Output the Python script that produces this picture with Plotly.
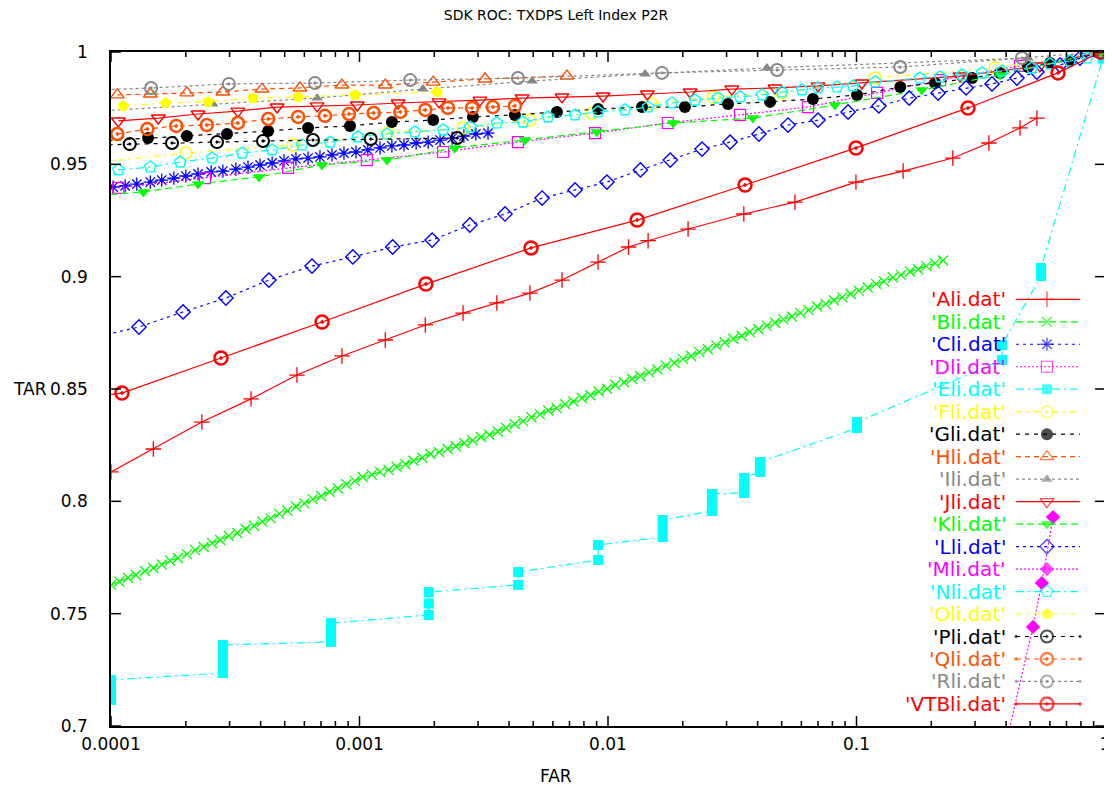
import math
import plotly.graph_objects as go

# ---------------- data (FAR, TAR) ----------------
A_far = [1.0e-4, 1.48e-4, 2.32e-4, 3.66e-4, 5.6e-4, 8.5e-4, 1.27e-3, 1.84e-3, 2.61e-3, 3.57e-3,
         4.85e-3, 6.53e-3, 9.12e-3, 1.21e-2, 1.45e-2, 2.1e-2, 3.52e-2, 5.65e-2, 9.95e-2, 0.154,
         0.244, 0.341, 0.455, 0.532]
A_tar = [0.8131, 0.8233, 0.8353, 0.8456, 0.8562, 0.8647, 0.8718, 0.8785, 0.8838, 0.8883,
         0.8927, 0.8985, 0.9065, 0.9132, 0.9160, 0.9212, 0.9279, 0.9332, 0.9421, 0.9470,
         0.9528, 0.9595, 0.9662, 0.9706]

B_far = [1.00e-4, 1.08e-4, 1.17e-4, 1.26e-4, 1.37e-4, 1.48e-4, 1.60e-4, 1.73e-4, 1.86e-4, 2.02e-4,
         2.18e-4, 2.36e-4, 2.55e-4, 2.75e-4, 2.98e-4, 3.22e-4, 3.48e-4, 3.76e-4, 4.06e-4, 4.39e-4,
         4.75e-4, 5.13e-4, 5.55e-4, 6.00e-4, 6.48e-4, 7.01e-4, 7.58e-4, 8.19e-4, 8.85e-4, 9.57e-4,
         1.03e-3, 1.12e-3, 1.21e-3, 1.31e-3, 1.41e-3, 1.53e-3, 1.65e-3, 1.79e-3, 1.93e-3, 2.09e-3,
         2.26e-3, 2.44e-3, 2.64e-3, 2.85e-3, 3.08e-3, 3.33e-3, 3.60e-3, 3.89e-3, 4.21e-3, 4.55e-3,
         4.92e-3, 5.32e-3, 5.75e-3, 6.21e-3, 6.72e-3, 7.26e-3, 7.85e-3, 8.49e-3, 9.17e-3, 9.92e-3,
         1.07e-2, 1.16e-2, 1.25e-2, 1.35e-2, 1.46e-2, 1.58e-2, 1.71e-2, 1.85e-2, 2.00e-2, 2.16e-2,
         2.33e-2, 2.52e-2, 2.73e-2, 2.95e-2, 3.19e-2, 3.45e-2, 3.72e-2, 4.03e-2, 4.35e-2, 4.70e-2,
         5.08e-2, 5.50e-2, 5.94e-2, 6.42e-2, 6.94e-2, 7.51e-2, 8.11e-2, 8.77e-2, 9.48e-2,
         0.102, 0.111, 0.120, 0.129, 0.140, 0.151, 0.164, 0.177, 0.191, 0.207, 0.223]
B_tar = [0.7628, 0.7643, 0.7660, 0.7672, 0.7690, 0.7703, 0.7719, 0.7736, 0.7748, 0.7765,
         0.7783, 0.7797, 0.7814, 0.7828, 0.7846, 0.7859, 0.7877, 0.7891, 0.7910, 0.7924,
         0.7944, 0.7958, 0.7977, 0.7991, 0.8010, 0.8024, 0.8043, 0.8057, 0.8076, 0.8091,
         0.8108, 0.8119, 0.8131, 0.8140, 0.8154, 0.8165, 0.8181, 0.8194, 0.8211, 0.8219,
         0.8234, 0.8245, 0.8260, 0.8271, 0.8286, 0.8296, 0.8311, 0.8327, 0.8344, 0.8357,
         0.8374, 0.8387, 0.8404, 0.8415, 0.8432, 0.8444, 0.8460, 0.8472, 0.8489, 0.8501,
         0.8518, 0.8530, 0.8546, 0.8558, 0.8574, 0.8587, 0.8604, 0.8617, 0.8634, 0.8647,
         0.8664, 0.8677, 0.8694, 0.8707, 0.8724, 0.8737, 0.8754, 0.8766, 0.8782, 0.8795,
         0.8810, 0.8823, 0.8839, 0.8851, 0.8867, 0.8879, 0.8895, 0.8908, 0.8923,
         0.8938, 0.8952, 0.8968, 0.8979, 0.8996, 0.9008, 0.9023, 0.9033, 0.9047, 0.9059, 0.9072]

C_far = [1.02e-4, 1.14e-4, 1.27e-4, 1.44e-4, 1.60e-4, 1.79e-4, 2.00e-4, 2.24e-4, 2.53e-4, 2.82e-4,
         3.18e-4, 3.56e-4, 3.98e-4, 4.45e-4, 4.97e-4, 5.55e-4, 6.21e-4, 6.93e-4, 7.75e-4, 8.66e-4,
         9.68e-4, 1.08e-3, 1.21e-3, 1.35e-3, 1.51e-3, 1.69e-3, 1.89e-3, 2.11e-3, 2.36e-3, 2.63e-3,
         2.94e-3, 3.29e-3]
C_tar = [0.9399, 0.9404, 0.9412, 0.9421, 0.9430, 0.9439, 0.9448, 0.9457, 0.9466, 0.9470,
         0.9479, 0.9488, 0.9497, 0.9506, 0.9515, 0.9524, 0.9528, 0.9533, 0.9542, 0.9550,
         0.9555, 0.9564, 0.9573, 0.9582, 0.9586, 0.9595, 0.9599, 0.9608, 0.9617, 0.9626,
         0.9635, 0.9639]

D_far = [1.07e-4, 2.39e-4, 5.16e-4, 1.07e-3, 2.17e-3, 4.34e-3, 8.87e-3, 1.74e-2, 3.40e-2, 6.38e-2,
         0.121, 0.217, 0.455, 0.96]
D_tar = [0.9395, 0.9439, 0.9484, 0.9519, 0.9555, 0.9599, 0.9639, 0.9684, 0.9720, 0.9755,
         0.9818, 0.9875, 0.9938, 1.0]

E_far = [1.0e-4, 1.0e-4, 1.0e-4, 1.0e-4, 2.82e-4, 2.82e-4, 2.82e-4, 2.82e-4,
         7.68e-4, 7.68e-4, 7.68e-4, 1.90e-3, 1.90e-3, 1.90e-3, 4.35e-3, 4.35e-3,
         9.12e-3, 9.12e-3, 1.66e-2, 1.66e-2, 1.66e-2, 2.62e-2, 2.62e-2, 2.62e-2,
         3.53e-2, 3.53e-2, 3.53e-2, 4.09e-2, 4.09e-2, 0.1005, 0.1005, 0.385, 0.385,
         0.553, 0.553, 0.98]
E_tar = [0.7116, 0.7145, 0.7175, 0.7205, 0.7236, 0.7278, 0.7320, 0.7361,
         0.7374, 0.7416, 0.7458, 0.7494, 0.7545, 0.7596, 0.7628, 0.7685,
         0.7739, 0.7806, 0.7841, 0.7880, 0.7917, 0.7957, 0.7995, 0.8033,
         0.8037, 0.8070, 0.8104, 0.8131, 0.8175, 0.8326, 0.8353, 0.8629, 0.8696,
         0.9003, 0.9039, 0.997]

F_far = [9e-5, 2.0e-4, 5.4e-4, 1.30e-3, 2.61e-3, 4.85e-3, 8.63e-3, 1.50e-2, 2.65e-2, 5.01e-2,
         0.119, 0.361, 0.96]
F_tar = [0.9510, 0.9550, 0.9586, 0.9640, 0.9662, 0.9697, 0.9728, 0.9769, 0.9800, 0.9818,
         0.9884, 0.9929, 1.0]

G_far = [9e-5, 1.41e-4, 2.02e-4, 2.93e-4, 4.29e-4, 6.21e-4, 9.16e-4, 1.35e-3, 1.98e-3, 2.86e-3,
         4.22e-3, 6.23e-3, 9.12e-3, 1.37e-2, 2.04e-2, 3.04e-2, 4.49e-2, 6.68e-2, 0.1005, 0.150,
         0.207, 0.292, 0.378, 0.490, 0.601, 0.723, 0.96]
G_tar = [0.9604, 0.9617, 0.9626, 0.9635, 0.9648, 0.9662, 0.9671, 0.9688, 0.9697, 0.9711,
         0.9720, 0.9733, 0.9746, 0.9755, 0.9755, 0.9769, 0.9778, 0.9791, 0.9809, 0.9844,
         0.9862, 0.9884, 0.9907, 0.9933, 0.9951, 0.9960, 1.0]

H_far = [1.06e-4, 1.44e-4, 2.02e-4, 2.82e-4, 4.05e-4, 5.76e-4, 8.5e-4, 1.27e-3, 1.98e-3, 3.2e-3, 6.84e-3]
H_tar = [0.9809, 0.9813, 0.9818, 0.9822, 0.9835, 0.9840, 0.9853, 0.9853, 0.9866, 0.9880, 0.9893]

I_far = [9e-5, 2.57e-4, 6.75e-4, 1.80e-3, 4.95e-3, 1.41e-2, 4.36e-2, 0.490]
I_tar = [0.9737, 0.9768, 0.9795, 0.9835, 0.9871, 0.9902, 0.9929, 0.9973]

J_far = [1.07e-4, 1.55e-4, 2.24e-4, 3.24e-4, 4.66e-4, 6.75e-4, 9.8e-4, 1.43e-3, 2.09e-3, 3.05e-3,
         4.51e-3, 6.53e-3, 9.55e-3, 1.44e-2, 2.14e-2, 3.15e-2, 4.7e-2, 7.0e-2, 0.105, 0.261,
         0.547, 0.96]
J_tar = [0.9693, 0.9706, 0.9724, 0.9737, 0.9755, 0.9760, 0.9764, 0.9773, 0.9778, 0.9786,
         0.9795, 0.9800, 0.9804, 0.9813, 0.9822, 0.9835, 0.9840, 0.9849, 0.9862, 0.9893,
         0.9938, 1.0]

K_far = [9e-5, 1.35e-4, 2.24e-4, 3.94e-4, 7.06e-4, 1.29e-3, 2.42e-3, 4.63e-3, 9.03e-3, 1.83e-2,
         3.83e-2, 8.19e-2, 0.183, 0.378, 0.96]
K_tar = [0.9363, 0.9377, 0.9412, 0.9444, 0.9497, 0.9519, 0.9573, 0.9608, 0.9644, 0.9684,
         0.9706, 0.9764, 0.9831, 0.9898, 1.0]

L_far = [9e-5, 1.296e-4, 1.95e-4, 2.90e-4, 4.32e-4, 6.44e-4, 9.4e-4, 1.36e-3, 1.96e-3, 2.78e-3,
         3.85e-3, 5.43e-3, 7.37e-3, 9.9e-3, 1.35e-2, 1.78e-2, 2.39e-2, 3.1e-2, 4.05e-2, 5.3e-2,
         7.0e-2, 9.25e-2, 0.123, 0.163, 0.213, 0.276, 0.351, 0.442, 0.532, 0.659, 0.793, 0.96]
L_tar = [0.8735, 0.8776, 0.8843, 0.8905, 0.8985, 0.9047, 0.9088, 0.9132, 0.9163, 0.9230,
         0.9279, 0.9350, 0.9386, 0.9421, 0.9475, 0.9519, 0.9568, 0.9599, 0.9635, 0.9675,
         0.9697, 0.9733, 0.9760, 0.9795, 0.9817, 0.9840, 0.9858, 0.9884, 0.9911, 0.9942,
         0.9973, 1.0]

M_far = [0.396, 0.513, 0.557, 0.618]
M_tar = [0.6902, 0.7441, 0.7636, 0.7930]

N_far = [1.07e-4, 1.44e-4, 1.90e-4, 2.55e-4, 3.37e-4, 4.45e-4, 5.87e-4, 7.61e-4, 9.86e-4, 1.29e-3,
         1.67e-3, 2.17e-3, 2.79e-3, 3.57e-3, 4.55e-3, 5.74e-3, 7.37e-3, 9.12e-3, 1.17e-2, 1.45e-2,
         1.81e-2, 2.24e-2, 2.77e-2, 3.40e-2, 4.17e-2, 5.01e-2, 6.04e-2, 7.0e-2, 8.35e-2, 9.68e-2,
         0.119, 0.180, 0.217, 0.266, 0.320, 0.385, 0.508, 0.601, 0.723, 0.847, 0.96]
N_tar = [0.9475, 0.9488, 0.9510, 0.9528, 0.9550, 0.9564, 0.9586, 0.9599, 0.9622, 0.9635,
         0.9644, 0.9653, 0.9666, 0.9684, 0.9688, 0.9711, 0.9720, 0.9733, 0.9742, 0.9755,
         0.9773, 0.9786, 0.9795, 0.9800, 0.9809, 0.9822, 0.9831, 0.9840, 0.9844, 0.9849,
         0.9867, 0.9884, 0.9889, 0.9898, 0.9907, 0.9915, 0.9929, 0.9947, 0.9960, 0.9973, 1.0]

O_far = [1.12e-4, 1.66e-4, 2.46e-4, 3.73e-4, 5.66e-4, 9.6e-4, 2.05e-3]
O_tar = [0.9760, 0.9773, 0.9778, 0.9795, 0.9800, 0.9809, 0.9822]

P_far = [9e-5, 1.19e-4, 1.76e-4, 2.67e-4, 4.09e-4, 6.50e-4, 1.11e-3, 2.47e-3]
P_tar = [0.9586, 0.9590, 0.9595, 0.9599, 0.9604, 0.9608, 0.9613, 0.9617]

Q_far = [1.06e-4, 1.40e-4, 1.83e-4, 2.43e-4, 3.24e-4, 4.29e-4, 5.66e-4, 7.26e-4, 9.07e-4, 1.14e-3,
         1.46e-3, 1.84e-3, 2.27e-3, 2.84e-3, 3.44e-3, 4.22e-3]
Q_tar = [0.9635, 0.9657, 0.9671, 0.9675, 0.9684, 0.9702, 0.9711, 0.9716, 0.9724, 0.9729,
         0.9733, 0.9742, 0.9751, 0.9751, 0.9755, 0.9760]

R_far = [9e-5, 1.45e-4, 2.98e-4, 6.62e-4, 1.6e-3, 4.34e-3, 1.65e-2, 4.79e-2, 0.150, 0.463, 0.96]
R_tar = [0.9831, 0.9840, 0.9858, 0.9862, 0.9875, 0.9884, 0.9907, 0.9920, 0.9933, 0.9973, 1.0]

V_far = [9e-5, 1.107e-4, 2.77e-4, 7.07e-4, 1.85e-3, 4.9e-3, 1.31e-2, 3.56e-2, 9.96e-2, 0.281, 0.647, 0.96]
V_tar = [0.8470, 0.8482, 0.8638, 0.8798, 0.8967, 0.9128, 0.9252, 0.9408, 0.9573, 0.9751, 0.9907, 1.0]

x_tickvals = [1e-4, 1e-3, 1e-2, 1e-1, 1]
x_ticktext = ["0.0001", "0.001", "0.01", "0.1", "1"]
x_minorvals = [2e-4, 3e-4, 4e-4, 5e-4, 6e-4, 7e-4, 8e-4, 9e-4,
               2e-3, 3e-3, 4e-3, 5e-3, 6e-3, 7e-3, 8e-3, 9e-3,
               2e-2, 3e-2, 4e-2, 5e-2, 6e-2, 7e-2, 8e-2, 9e-2,
               0.2, 0.3, 0.4, 0.5, 0.6, 0.7, 0.8, 0.9]
y_tickvals = [0.7, 0.75, 0.8, 0.85, 0.9, 0.95, 1.0]
y_ticktext = ["0.7", "0.75", "0.8", "0.85", "0.9", "0.95", "1"]

# ---------------- styles ----------------
RED, GREEN, BLUE, MAG, CYAN, YEL, BLK, ORG, GRY = (
    "#ff0000", "#00ff00", "#0000ff", "#ff00ff", "#00ffff", "#ffff00", "#000000", "#ff4f00", "#888888")
DASH_B = "7px,4px"
DASH_C = "3px,4px"
DASH_D = "2px,2px"
DASH_E = "8px,4px,2px,4px"
DASH_F = "6px,5px,2px,5px"
DASH_G = "4px,5px"
DASH_H = "5px,4px"
DASH_I = "3px,3px"

series = [
    ("'Ali.dat'", A_far, A_tar, RED, "solid", "cross-thin-open", 11, 1.3),
    ("'Bli.dat'", B_far, B_tar, GREEN, DASH_B, "x-thin-open", 10, 1.3),
    ("'Cli.dat'", C_far, C_tar, BLUE, DASH_C, "asterisk-open", 11, 1.3),
    ("'Dli.dat'", D_far, D_tar, MAG, DASH_D, "square-open", 11, 1.2),
    ("'Eli.dat'", E_far, E_tar, CYAN, DASH_E, "square", 10, 0),
    ("'Fli.dat'", F_far, F_tar, YEL, DASH_F, "circle-open", 12, 1.4),
    ("'Gli.dat'", G_far, G_tar, BLK, DASH_G, "circle", 12, 0),
    ("'Hli.dat'", H_far, H_tar, ORG, DASH_H, "triangle-up-open", 12, 1.4),
    ("'Ili.dat'", I_far, I_tar, GRY, DASH_I, "triangle-up", 10, 0),
    ("'Jli.dat'", J_far, J_tar, RED, "solid", "triangle-down-open", 12, 1.4),
    ("'Kli.dat'", K_far, K_tar, GREEN, DASH_B, "triangle-down", 11, 0),
    ("'Lli.dat'", L_far, L_tar, BLUE, DASH_C, "diamond-open", 11, 1.4),
    ("'Mli.dat'", M_far, M_tar, MAG, DASH_D, "diamond", 11, 0),
    ("'Nli.dat'", N_far, N_tar, CYAN, DASH_E, "pentagon-open", 12, 1.4),
    ("'Oli.dat'", O_far, O_tar, YEL, DASH_F, "pentagon", 12, 0),
    ("'Pli.dat'", P_far, P_tar, BLK, DASH_G, "circle-open-dot", 12, 2),
    ("'Qli.dat'", Q_far, Q_tar, ORG, DASH_H, "circle-open-dot", 12, 2.5),
    ("'Rli.dat'", R_far, R_tar, GRY, DASH_I, "circle-open-dot", 12, 2),
    ("'VTBli.dat'", V_far, V_tar, RED, "solid", "circle-open-dot", 13, 2.5),
]

FONT = "DejaVu Sans, Verdana, sans-serif"
fig = go.Figure()

for name, fx, ty, col, dash, sym, size, mlw in series:
    fig.add_trace(go.Scatter(
        x=fx, y=ty, mode="lines+markers", name=name, showlegend=False,
        line=dict(color=col, width=1.2, dash=dash),
        marker=dict(symbol=sym, size=size, color=col, line=dict(color=col, width=mlw)),
    ))

# ---------- geometry of the plotting box (the page adds an 8px body margin) ----------
PLOT_W_PX, PLOT_H_PX = 994.0, 674.0
MAJ_LEN, MIN_LEN = 10.0, 5.0

# gnuplot-style key: right-aligned coloured label, then line sample with marker
KEY_TEXT_X = 0.9024
KEY_X0, KEY_XM, KEY_X1 = 0.9105, 0.9416, 0.9749
KEY_TOP_PX, KEY_STEP_PX = 426.7, 22.48
annotations = []
for i, (name, fx, ty, col, dash, sym, size, mlw) in enumerate(series):
    yk = (KEY_TOP_PX - KEY_STEP_PX * i) / PLOT_H_PX
    fig.add_trace(go.Scatter(
        x=[KEY_X0, KEY_XM, KEY_X1], y=[yk, yk, yk], xaxis="x2", yaxis="y2",
        mode="lines+markers", showlegend=False, hoverinfo="skip",
        line=dict(color=col, width=1.2, dash=dash),
        marker=dict(symbol=sym, size=[0, size, 0], color=col, line=dict(color=col, width=mlw)),
    ))
    annotations.append(dict(
        text=name, x=KEY_TEXT_X, y=yk, xref="paper", yref="paper",
        xanchor="right", yanchor="middle", showarrow=False,
        font=dict(family=FONT, size=20, color=col)))

annotations.append(dict(text="FAR", x=0.4477, y=-0.0742, xref="paper", yref="paper",
                        xanchor="center", yanchor="middle",
                        showarrow=False, font=dict(family=FONT, size=17, color="black")))
annotations.append(dict(text="TAR", x=-0.0815, y=0.5, xref="paper", yref="paper",
                        xanchor="center", yanchor="middle",
                        showarrow=False, font=dict(family=FONT, size=17, color="black")))

# tick marks drawn inside on all four sides (gnuplot style)
shapes = []
tick_style = dict(type="line", xref="paper", yref="paper", layer="above",
                  line=dict(color="black", width=1.5))
def xfrac(v):
    return (math.log10(v) + 4.0) / 4.0
for v in x_tickvals + x_minorvals:
    L = (MAJ_LEN if v in x_tickvals else MIN_LEN) / PLOT_H_PX
    xf = xfrac(v)
    shapes.append(dict(x0=xf, x1=xf, y0=0, y1=L, **tick_style))
    shapes.append(dict(x0=xf, x1=xf, y0=1, y1=1 - L, **tick_style))
for v in y_tickvals:
    yf = (v - 0.7) / 0.3
    L = MAJ_LEN / PLOT_W_PX
    shapes.append(dict(x0=0, x1=L, y0=yf, y1=yf, **tick_style))
    shapes.append(dict(x0=1, x1=1 - L, y0=yf, y1=yf, **tick_style))

axis_common = dict(showline=True, linecolor="black", linewidth=1.5, mirror=True,
                   ticks="", showgrid=False, zeroline=False, automargin=False,
                   tickfont=dict(family=FONT, size=17, color="black"))

fig.update_layout(
    width=1104, height=787,
    margin=dict(l=103, r=7, t=44, b=69, autoexpand=False),
    paper_bgcolor="white", plot_bgcolor="white",
    title=dict(text="SDK ROC: TXDPS Left Index P2R", x=0.4964, xref="container", xanchor="center",
               y=1 - 7 / 787, yref="container", yanchor="middle",
               font=dict(family=FONT, size=14, color="black")),
    xaxis=dict(type="log", range=[-4.0000001, 0.0000001], tickmode="array",
               tickvals=x_tickvals, ticktext=x_ticktext, ticklabelstandoff=2,
               **axis_common),
    yaxis=dict(range=[0.7, 1.0], tickmode="array", tickvals=y_tickvals, ticktext=y_ticktext,
               ticklabelstandoff=18, **axis_common),
    xaxis2=dict(overlaying="x", anchor="y2", range=[0, 1], visible=False, fixedrange=True),
    yaxis2=dict(overlaying="y", anchor="x2", range=[0, 1], visible=False, fixedrange=True),
    annotations=annotations,
    shapes=shapes,
)

fig.write_html("out.html")
